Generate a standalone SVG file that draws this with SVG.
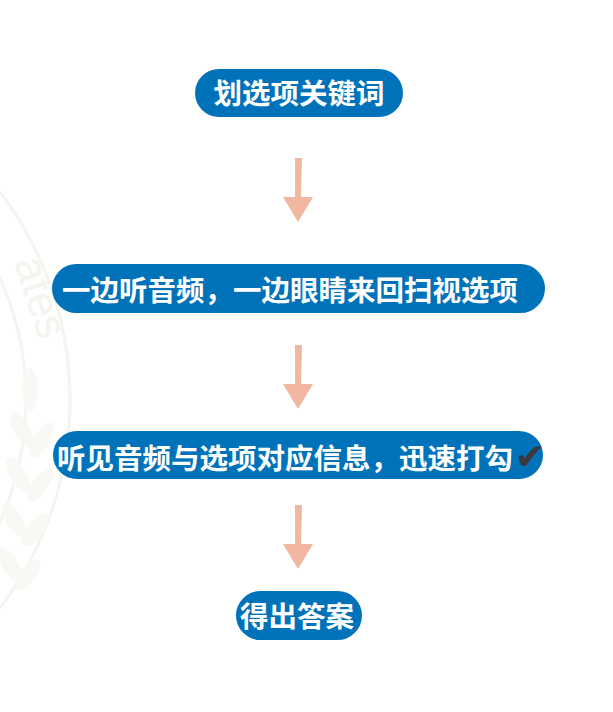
<svg xmlns="http://www.w3.org/2000/svg" width="613" height="712" viewBox="0 0 613 712">
<defs>
<style>
.pill{fill:#0072BA;}
.lbl{font-family:"Noto Sans CJK SC","Noto Sans",sans-serif;font-weight:bold;font-size:28.5px;fill:#ffffff;text-anchor:middle;}
.arrow{fill:#F2B7A0;}
.wm{fill:none;stroke:#f6f4ef;stroke-width:3;}
.leaf{fill:#faf8f5;}
</style>
</defs>
<rect width="613" height="712" fill="#ffffff"/>
<g id="watermark">
<circle class="wm" cx="-274" cy="400" r="344"/>
<circle class="wm" cx="-274" cy="400" r="300" stroke-width="2"/>
<text x="0" y="0" transform="translate(14,262) rotate(72)" font-family="Liberation Sans, sans-serif" font-size="44" fill="#f5f3ee">ates</text>
<ellipse class="leaf" cx="30" cy="390" rx="8" ry="22"/>
<ellipse class="leaf" cx="22" cy="430" rx="8" ry="20" transform="rotate(-30 22 430)"/>
<ellipse class="leaf" cx="42" cy="440" rx="8" ry="20" transform="rotate(30 42 440)"/>
<ellipse class="leaf" cx="18" cy="475" rx="8" ry="20" transform="rotate(-30 18 475)"/>
<ellipse class="leaf" cx="40" cy="485" rx="8" ry="20" transform="rotate(35 40 485)"/>
<ellipse class="leaf" cx="14" cy="520" rx="8" ry="20" transform="rotate(-30 14 520)"/>
<ellipse class="leaf" cx="35" cy="530" rx="8" ry="20" transform="rotate(35 35 530)"/>
<ellipse class="leaf" cx="10" cy="565" rx="8" ry="20" transform="rotate(-30 10 565)"/>
<ellipse class="leaf" cx="28" cy="575" rx="8" ry="18" transform="rotate(35 28 575)"/>
</g>
<g id="connectors">
<path class="arrow" d="M295,158 L302,158 L301,197 L313,197 L298,222 L283,197 L295,197 Z"/>
<path class="arrow" d="M295,345 L302,345 L301,384 L313,384 L298,409 L283,384 L295,384 Z"/>
<path class="arrow" d="M295,505 L302,505 L301,544 L313,544 L298,569 L283,544 L295,544 Z"/>
</g>
<g id="node1">
<rect class="pill" x="195" y="69" width="208" height="48" rx="24"/>
<text class="lbl" x="299" y="104">划选项关键词</text>
</g>
<g id="node2">
<rect class="pill" x="52" y="264" width="493" height="49" rx="24.5"/>
<text class="lbl" x="290" y="301">一边听音频，一边眼睛来回扫视选项</text>
</g>
<g id="node3">
<rect class="pill" x="53" y="431" width="490" height="48" rx="24"/>
<text class="lbl" x="57" y="469" style="text-anchor:start">听见音频与选项对应信息，迅速打勾<tspan fill="#3a3a3a" font-family="DejaVu Sans, sans-serif" font-size="36px" dx="2">✔</tspan></text>
</g>
<g id="node4">
<rect class="pill" x="236" y="591" width="126" height="49" rx="24.5"/>
<text class="lbl" x="297" y="627">得出答案</text>
</g>
</svg>
